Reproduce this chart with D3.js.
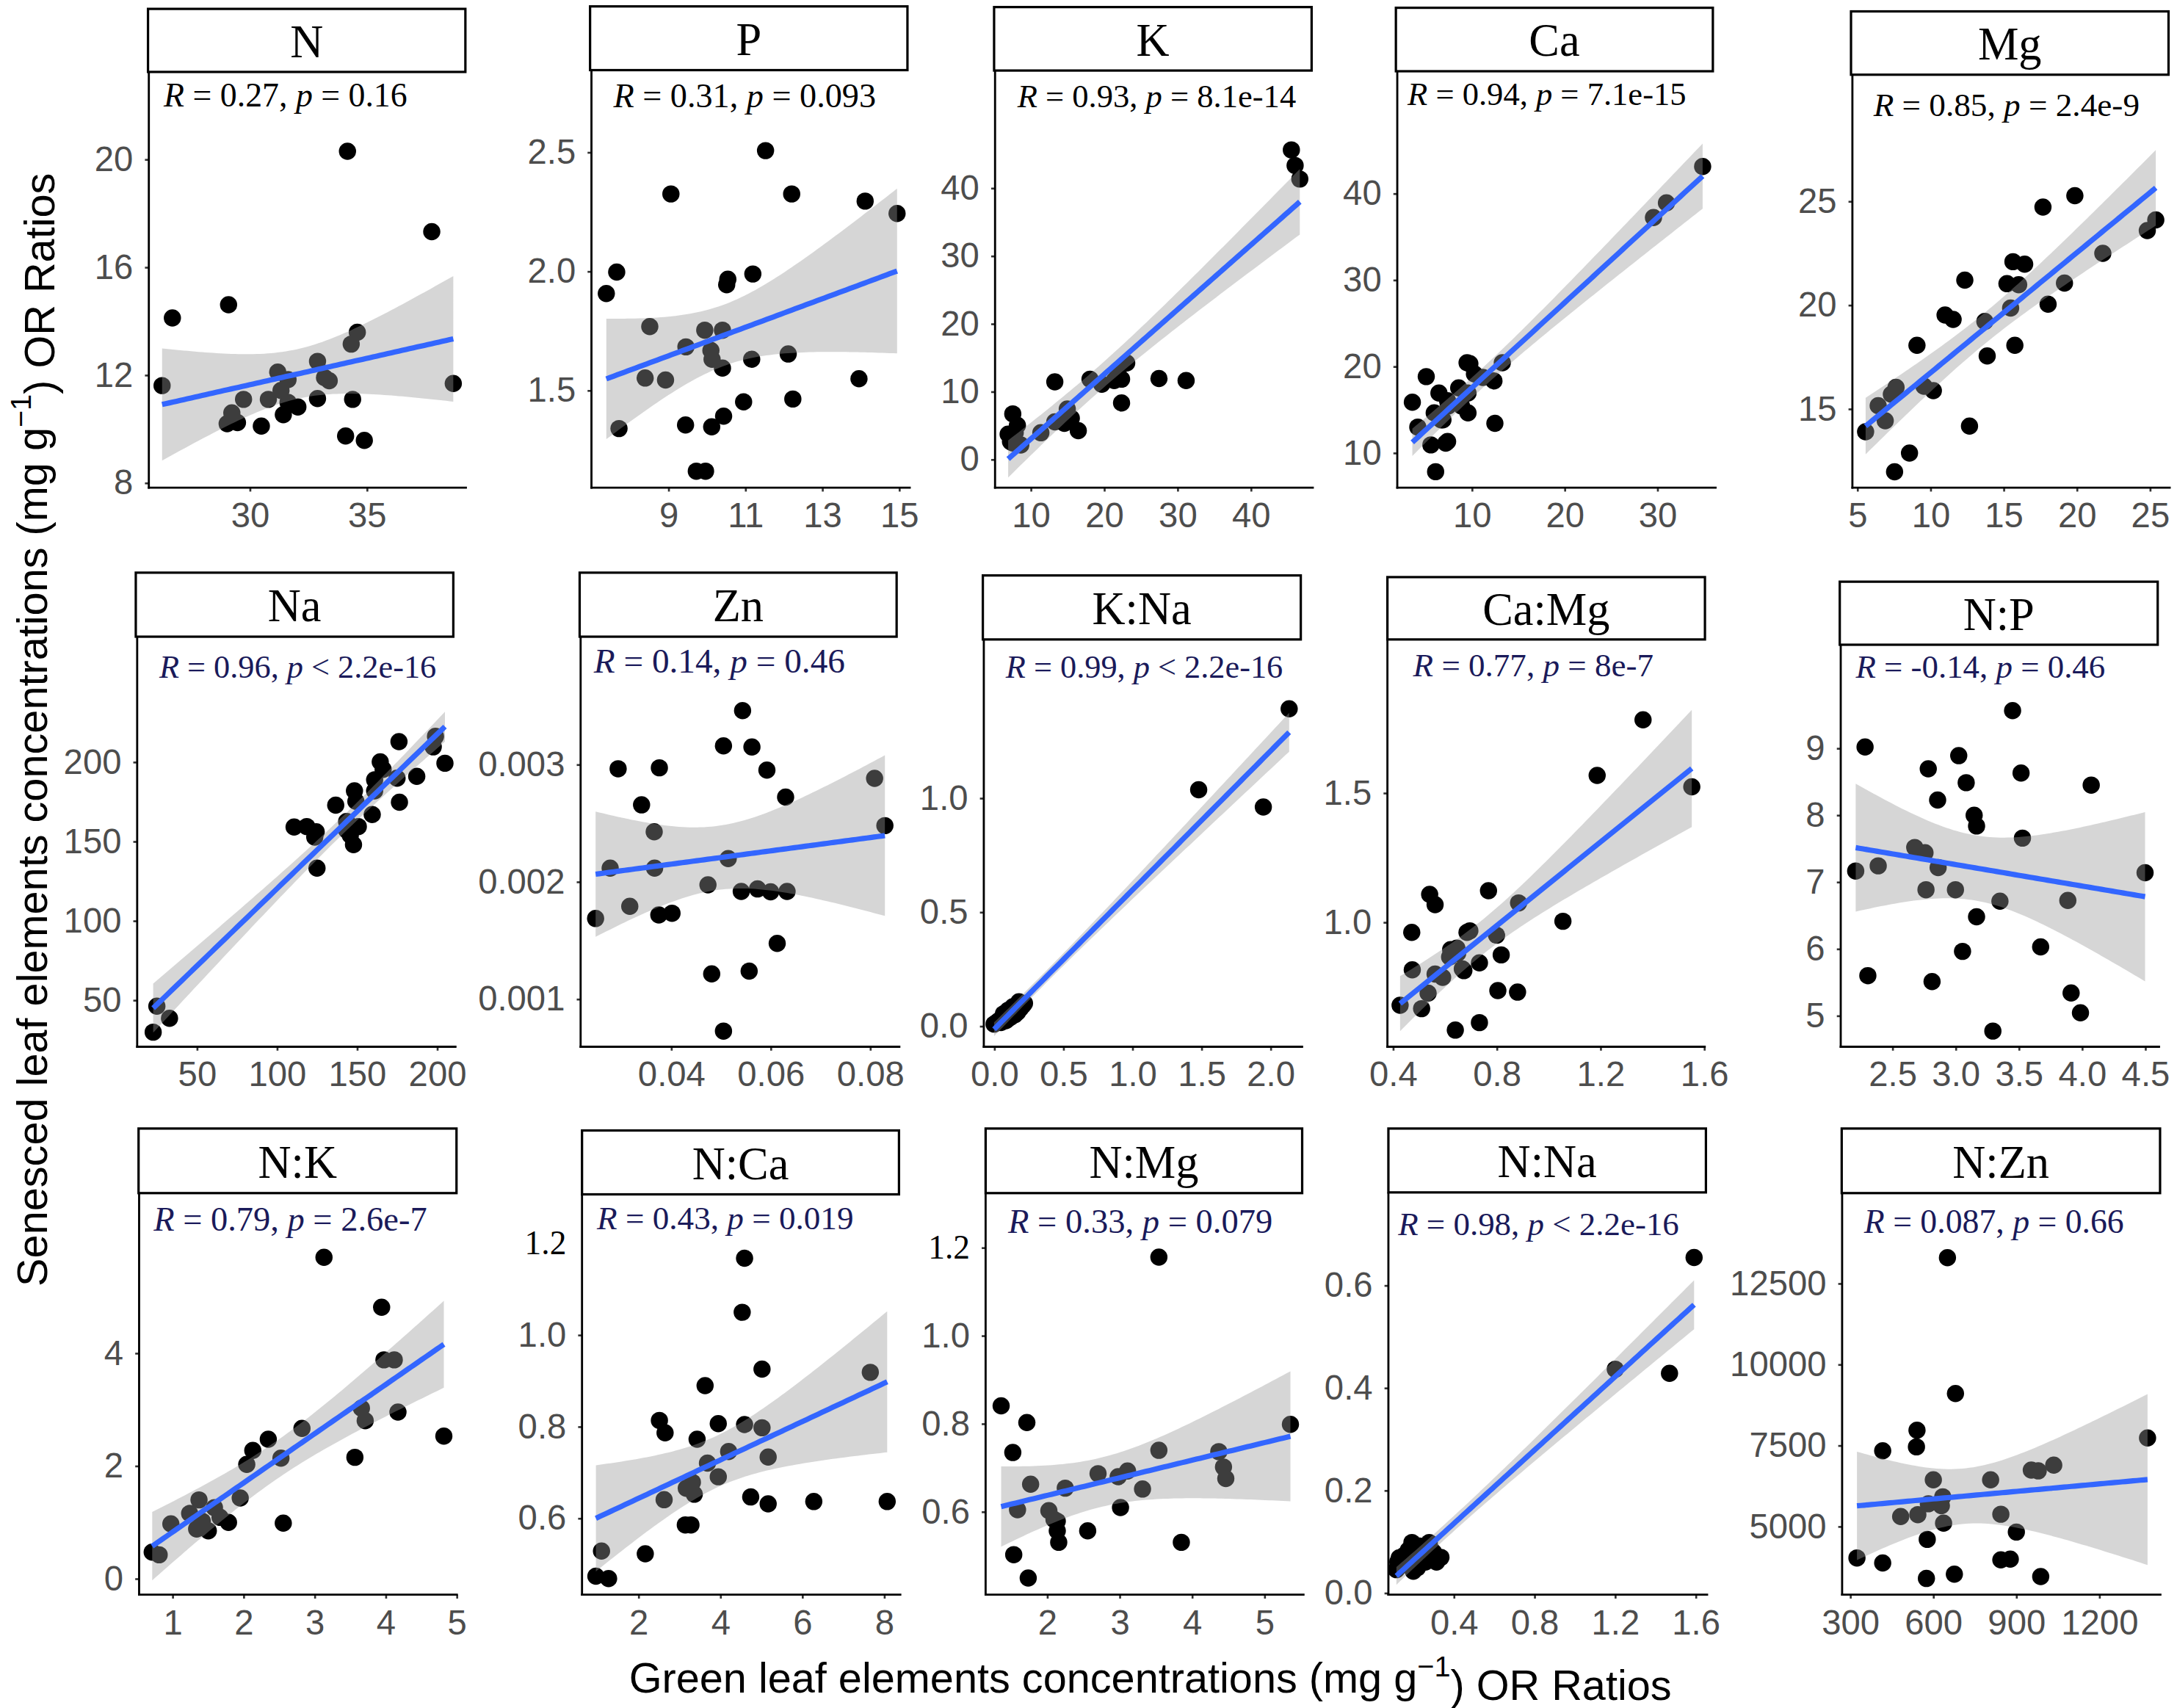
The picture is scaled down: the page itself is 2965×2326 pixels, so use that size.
<!DOCTYPE html>
<html>
<head>
<meta charset="utf-8">
<script src="https://cdn.jsdelivr.net/npm/d3@7"></script>
<style>
  body { margin: 0; background: #fff; }
  svg { display: block; }
</style>
</head>
<body>
<svg></svg>
<script>

// ---- data ----
var panelNames = ["N","P","K","Ca","Mg","Na","Zn","K:Na","Ca:Mg","N:P","N:K","N:Ca","N:Mg","N:Na","N:Zn"];
var rValues = ["0.27","0.31","0.93","0.94","0.85","0.96","0.14","0.99","0.77","-0.14","0.79","0.43","0.33","0.98","0.087"];
var pSigns  = ["=","=","=","=","=","<","=","<","=","=","=","=","=","<","="];
var pValues = ["0.16","0.093","8.1e-14","7.1e-15","2.4e-9","2.2e-16","0.46","2.2e-16","8e-7","0.46","2.6e-7","0.019","0.079","2.2e-16","0.66"];

var xTickValues = [[30,35],[9,11,13,15],[10,20,30,40],[10,20,30],[5,10,15,20,25],
                   [50,100,150,200],[0.04,0.06,0.08],[0,0.5,1,1.5,2],[0.4,0.8,1.2,1.6],[2.5,3,3.5,4,4.5],
                   [1,2,3,4,5],[2,4,6,8],[2,3,4,5],[0.4,0.8,1.2,1.6],[300,600,900,1200]];
var yTickValues = [[8,12,16,20],[1.5,2,2.5],[0,10,20,30,40],[10,20,30,40],[15,20,25],
                   [50,100,150,200],[0.001,0.002,0.003],[0,0.5,1],[1,1.5],[5,6,7,8,9],
                   [0,2,4],[0.6,0.8,1,1.2],[0.6,0.8,1,1.2],[0,0.2,0.4,0.6],[5000,7500,10000,12500]];

// green leaf (x) and senesced leaf (y)
var nGreen = [26.26,26.7,29.1,34.18,37.78,38.7,29.04,29.24,29.48,29.74,30.5,30.8,31.2,31.34,31.44,31.64,31.64,32.06,32.9,32.9,33.2,33.4,34.1,34.34,34.4,34.6,34.9];
var nSen   = [11.6,14.11,14.6,20.29,17.31,11.68,10.19,10.59,10.23,11.09,10.1,11.09,12.1,11.42,10.52,11.82,10.98,10.81,12.5,11.12,11.9,11.78,9.73,13.14,11.09,13.58,9.57];

var pGreen = [7.39,7.66,7.72,8.52,8.4,8.93,9.07,9.46,9.45,9.73,9.97,9.95,10.13,10.11,10.14,10.44,10.41,10.41,10.52,10.55,11.53,12.21,14.12,14.95,11.2,11.17,12.12,13.96,10.96,12.24];
var pSen   = [1.906,1.996,1.339,1.767,1.551,1.543,2.324,1.682,1.354,1.16,1.16,1.752,1.346,1.667,1.63,1.391,1.593,1.752,1.943,1.966,2.506,2.324,2.294,2.242,1.988,1.63,1.652,1.548,1.451,1.463];

var kGreen = [45.55,46.06,46.7,7.57,7.26,7.9,8.2,8.66,6.94,11.4,13.3,13.3,14.6,15.0,15.55,16.5,18.1,19.7,21.4,22.4,23.1,22.4,27.5,31.2,7.57,21.9];
var kSen   = [45.6,43.3,41.3,6.68,2.6,3.9,5.0,2.1,3.7,3.9,11.4,5.5,5.3,7.4,6.05,4.2,11.8,11.05,11.6,11.8,14.2,8.3,11.9,11.6,2.4,12.9];

var caGreen = [3.6,4.19,5.1,5.6,6.11,7.2,6.47,5.96,6.7,7.46,9.5,34.9,31.0,29.6,13.3,9.8,10.3,12.4,12.5,8.6,9.6,8.9,9.6,7.4,6.9,7.4,11.2];
var caSen   = [15.84,12.96,18.8,10.9,7.8,11.1,16.9,14.6,13.8,15.4,20.4,43.1,38.9,37.2,20.4,20.3,19.1,18.3,13.4,17.5,16.9,15.4,14.6,16.0,13.8,11.3,18.7];

var mgGreen = [5.58,6.44,6.92,7.34,7.66,7.56,8.58,9.09,9.57,10.21,11.01,11.56,12.36,12.68,13.73,13.89,15.24,15.49,15.65,16.04,15.78,16.45,17.7,18.05,19.17,19.88,21.79,24.83,25.41];
var mgSen   = [13.89,15.14,14.42,15.69,16.03,11.96,12.86,18.05,16.08,15.87,19.51,19.3,21.19,14.16,19.2,17.54,21.02,19.85,22.08,20.97,18.05,21.96,24.71,20.03,21.05,25.26,22.48,23.58,24.09];

var naGreen = [25.1,22.8,33.0,110.8,118.7,124.6,123.7,125.1,136.8,143.6,145.9,147.9,148.5,149.4,150.9,159.6,161.1,161.1,164.6,166.4,175.1,176.3,176.6,187.4,197.7,199.1,205.0,143.6];
var naSen   = [46.1,29.7,38.4,158.9,159.2,155.9,152.6,133.0,172.7,157.0,153.7,147.8,181.7,175.1,159.2,166.8,181.7,188.6,200,195.2,189.7,212.7,174.5,190.8,209.4,216.0,199.1,162.4];

var znGreen = [0.02484,0.02777,0.02937,0.03171,0.03408,0.03662,0.0367,0.03766,0.03755,0.0402,0.04743,0.04818,0.05055,0.0515,0.05055,0.05439,0.05627,0.05928,0.06304,0.08093,0.083,0.05412,0.0574,0.06003,0.06333,0.06135,0.05571];
var znSen   = [0.001685,0.002114,0.002962,0.001789,0.002654,0.002424,0.002114,0.00297,0.001715,0.00173,0.001972,0.001213,0.003157,0.002196,0.000725,0.003458,0.003148,0.00295,0.00272,0.00288,0.002477,0.001916,0.001937,0.001913,0.001916,0.001473,0.001236];

var knaGreen = [2.136,1.481,1.949,0.017,0.05,0.085,0.12,0.15,0.19,0.21,0.034,0.068,0.10,0.136,0.17,0.19,0.15,0.12,0.05,0.085,0.0,0.22,0.18,0.10];
var knaSen   = [1.391,1.036,0.96,0.015,0.03,0.046,0.06,0.076,0.084,0.091,0.023,0.053,0.068,0.084,0.06,0.076,0.049,0.038,0.015,0.023,0.008,0.099,0.106,0.03];

var camgGreen = [0.428,0.473,0.475,0.542,0.563,0.511,0.536,0.563,0.641,0.623,0.65,0.668,0.686,1.365,1.188,1.553,0.769,0.885,1.056,0.697,0.8,0.818,0.734,0.674,0.647,0.619,0.805,0.881,0.734,0.592];
var camgSen   = [0.678,0.96,0.815,1.107,1.067,0.665,0.725,0.799,0.582,0.893,0.879,0.819,0.96,1.782,1.567,1.523,1.121,1.074,1.003,0.966,0.949,0.873,0.842,0.812,0.899,0.865,0.735,0.729,0.611,0.786];

var npGreen = [2.211,2.285,2.307,2.389,2.678,2.759,2.785,2.859,2.863,2.767,2.815,3.0,3.026,3.085,3.056,3.148,3.167,3.167,3.296,3.352,3.452,3.519,3.53,3.674,3.889,3.915,3.989,4.074,4.5];
var npSen   = [7.161,9.016,5.596,7.238,7.513,7.435,8.689,8.223,7.212,6.881,5.508,6.881,8.886,8.482,5.959,7.995,7.834,6.477,4.767,6.71,9.56,8.627,7.653,6.026,6.72,5.337,5.041,8.446,7.135];

var nkGreen = [0.717,0.815,0.98,1.244,1.376,1.343,1.422,1.507,1.593,1.672,1.791,1.956,2.048,2.133,2.351,2.529,2.562,2.825,3.135,3.57,3.662,3.715,3.946,3.979,4.124,4.176,4.822];
var nkSen   = [0.467,0.419,0.967,1.153,1.393,0.878,1.015,0.844,1.256,1.084,0.995,1.427,2.024,2.271,2.47,2.134,0.981,2.662,5.695,2.148,3.019,2.799,4.81,3.877,3.877,2.95,2.525];

var ncaGreen = [0.966,1.276,1.103,2.172,2.517,2.655,2.632,3.149,3.287,3.172,3.322,3.368,3.437,3.632,3.69,3.954,3.954,4.207,4.596,4.538,5.022,4.596,5.022,5.172,4.746,5.172,6.286,8.078,7.666];
var ncaSen   = [0.473,0.468,0.528,0.522,0.813,0.786,0.64,0.585,0.585,0.665,0.678,0.652,0.772,0.889,0.72,0.69,0.806,0.745,1.167,1.049,0.925,0.804,0.797,0.733,0.646,0.631,0.636,0.636,0.918];

var nmgGreen = [1.367,1.528,1.593,1.541,1.741,1.722,1.774,2.026,2.097,2.142,2.162,2.252,2.562,2.705,2.983,3.112,3.015,3.319,3.545,3.545,3.855,4.372,4.437,4.469,5.361,2.142];
var nmgSen   = [0.84,0.734,0.604,0.502,0.449,0.802,0.662,0.602,0.582,0.556,0.53,0.653,0.556,0.686,0.679,0.692,0.609,0.651,1.178,0.739,0.53,0.736,0.701,0.675,0.798,0.578];

var nnaGreen = [1.593,1.202,1.471,0.123,0.151,0.175,0.193,0.221,0.21,0.25,0.279,0.29,0.315,0.175,0.14,0.23,0.26,0.116,0.2,0.3,0.16,0.22,0.13,0.315,0.337];
var nnaSen   = [0.654,0.436,0.428,0.06,0.072,0.083,0.098,0.049,0.064,0.075,0.098,0.083,0.068,0.057,0.053,0.091,0.06,0.045,0.042,0.079,0.064,0.072,0.068,0.06,0.069];

var nznGreen = [325,418,418,483,542,540,545,579,576,583,601,630,635,638,652,677,681,808,845,845,879,901,955,980,989,1036,1375];
var nznSen   = [4021,7329,3865,5299,7962,7449,5358,4594,3388,5693,6433,5633,5908,5096,13289,3519,9097,6433,5370,3961,3985,4821,6732,6708,3447,6887,7724];

var greenSeries = [nGreen,pGreen,kGreen,caGreen,mgGreen,naGreen,znGreen,knaGreen,camgGreen,npGreen,nkGreen,ncaGreen,nmgGreen,nnaGreen,nznGreen];
var senSeries   = [nSen,pSen,kSen,caSen,mgSen,naSen,znSen,knaSen,camgSen,npSen,nkSen,ncaSen,nmgSen,nnaSen,nznSen];

// ---- panel placement (drawing units, viewBox 1568 x 1230) ----
var layout = [
 {strip:[106.6,335.2,6.4,51.8], left:107.2, bottom:351.2, right:336.3, xa:[30,35], xp:[179.8,264.1], ya:[8,20], yp:[347.6,114.6], xf:"d", yf:"d", ann:[118,293.4,76.9]},
 {strip:[425,653.6,4.6,50.5], left:426, bottom:351.2, right:656, xa:[9,15], xp:[481.3,647.5], ya:[1.5,2.5], yp:[281,109.5], xf:"d", yf:".1f", ann:[441.8,631,77]},
 {strip:[716,944.7,5.1,50.8], left:716.7, bottom:351.2, right:946.3, xa:[10,40], xp:[742.3,900.8], ya:[0,40], yp:[330.7,135.3], xf:"d", yf:"d", ann:[732.8,933.5,77]},
 {strip:[1005.4,1233.7,5.6,51.3], left:1006.4, bottom:351.2, right:1236.4, xa:[10,30], xp:[1060,1193.6], ya:[10,40], yp:[326,139.2], xf:"d", yf:"d", ann:[1013.8,1214.5,75.6]},
 {strip:[1333.2,1561.9,8.2,53.8], left:1334.2, bottom:351.2, right:1563.5, xa:[5,25], xp:[1337.6,1548.4], ya:[15,25], yp:[294.3,144.8], xf:"d", yf:"d", ann:[1349.4,1541,83.3]},
 {strip:[97.8,326.5,412.4,458.5], left:98.8, bottom:753.8, right:328.8, xa:[50,200], xp:[141.7,314.7], ya:[50,200], yp:[720.1,548.6], xf:"d", yf:"d", ann:[114.7,314.3,488]},
 {strip:[417.5,645.8,412.4,458.5], left:418.2, bottom:753.8, right:648.5, xa:[0.04,0.08], xp:[483.3,626.6], ya:[0.001,0.003], yp:[719.3,550.4], xf:".2f", yf:".3f", ann:[427.7,611.4,484.3]},
 {strip:[707.9,936.9,414.4,460.5], left:708.6, bottom:753.8, right:938.6, xa:[0,2], xp:[716,915], ya:[0,1], yp:[738.8,574.6], xf:".1f", yf:".1f", ann:[724.4,924.1,488]},
 {strip:[999.3,1228,415.6,460.5], left:999.3, bottom:753.8, right:1228.6, xa:[0.4,1.6], xp:[1003.2,1227.3], ya:[1,1.5], yp:[664,570.9], xf:".1f", yf:".1f", ann:[1017.8,1190.9,486.8]},
 {strip:[1325.1,1554.1,418.9,464.3], left:1325.8, bottom:753.8, right:1555.8, xa:[2.5,4.5], xp:[1362.9,1545], ya:[5,9], yp:[731.3,538.7], xf:".1f", yf:"d", ann:[1336.6,1516.3,488]},
 {strip:[99.8,328.8,812.7,859.2], left:100.2, bottom:1148.4, right:329.8, xa:[1,5], xp:[124.1,328.8], ya:[0,4], yp:[1136.7,974.3], xf:"d", yf:"d", ann:[110.6,307.6,886.5]},
 {strip:[419.2,647.5,814.1,860.1], left:419.2, bottom:1148.4, right:649.2, xa:[2,8], xp:[459.7,636.7], ya:[0.6,1], yp:[1093.2,961.2], xf:"d", yf:".1f", ann:[430,614.8,885.1]},
 {strip:[709.9,937.9,812.7,859.2], left:709.9, bottom:1148.4, right:939.6, xa:[2,5], xp:[754.1,910.6], ya:[0.6,1], yp:[1088.5,961.7], xf:"d", yf:".1f", ann:[726.1,916.7,887.9]},
 {strip:[1000,1228.7,812.7,858.7], left:1000, bottom:1148.4, right:1230.3, xa:[0.4,1.6], xp:[1047,1221.2], ya:[0,0.6], yp:[1147,925.5], xf:".1f", yf:".1f", ann:[1007,1209.4,889.3]},
 {strip:[1326.5,1555.8,812.7,859.2], left:1326.8, bottom:1148.4, right:1556.8, xa:[300,1200], xp:[1332.5,1511.9], ya:[5000,12500], yp:[1099.1,924.1], xf:"d", yf:"d", ann:[1342.6,1529.8,887.9]}
];

var sansFont = "'Liberation Sans', Arial, sans-serif";
var serifFont = "'Liberation Serif', 'Times New Roman', serif";

var svg = d3.select("svg")
    .attr("width", 2965)
    .attr("height", 2326)
    .attr("viewBox", "0 0 1568 1230")
    .attr("preserveAspectRatio", "none");

svg.append("rect").attr("width", 1568).attr("height", 1230).attr("fill", "white");

// t quantile (0.975) by Cornish-Fisher expansion
function qt975(df) {
    var z = 1.959964;
    var g1 = (Math.pow(z,3) + z) / 4;
    var g2 = (5*Math.pow(z,5) + 16*Math.pow(z,3) + 3*z) / 96;
    var g3 = (3*Math.pow(z,7) + 19*Math.pow(z,5) + 17*Math.pow(z,3) - 15*z) / 384;
    return z + g1/df + g2/(df*df) + g3/(df*df*df);
}

// linear model with 95% confidence band, like geom_smooth(method = "lm")
function lmFit(xs, ys) {
    var n = xs.length;
    var mx = d3.mean(xs), my = d3.mean(ys);
    var sxx = 0, sxy = 0;
    for (var i = 0; i < n; i++) {
        sxx += (xs[i]-mx)*(xs[i]-mx);
        sxy += (xs[i]-mx)*(ys[i]-my);
    }
    var b = sxy / sxx, a = my - b*mx;
    var sse = 0;
    for (var j = 0; j < n; j++) {
        var r = ys[j] - (a + b*xs[j]);
        sse += r*r;
    }
    var s = Math.sqrt(sse / (n-2));
    var t = qt975(n-2);
    var lo = d3.min(xs), hi = d3.max(xs);
    var pts = d3.range(0, 81).map(function(k) {
        var x = lo + (hi-lo)*k/80;
        var fit = a + b*x;
        var se = s*Math.sqrt(1/n + (x-mx)*(x-mx)/sxx);
        return {x: x, y: fit, lo: fit - t*se, hi: fit + t*se};
    });
    return pts;
}

var defs = svg.append("defs");

panelNames.forEach(function(name, i) {
    var L = layout[i];
    var top = L.strip[3];

    var x = d3.scaleLinear().domain(L.xa).range(L.xp);
    var y = d3.scaleLinear().domain(L.ya).range(L.yp);

    var g = svg.append("g").attr("class", "panel");

    defs.append("clipPath").attr("id", "clip" + i)
        .append("rect")
        .attr("x", L.left).attr("y", top)
        .attr("width", L.right - L.left).attr("height", L.bottom - top);

    // points first, the ribbon is drawn over them
    g.append("g").selectAll("circle")
        .data(d3.zip(greenSeries[i], senSeries[i]))
        .enter()
        .append("circle")
        .attr("cx", function(d) { return x(d[0]); })
        .attr("cy", function(d) { return y(d[1]); })
        .attr("r", 6.2)
        .style("fill", "black");

    var fit = lmFit(greenSeries[i], senSeries[i]);
    var band = d3.area()
        .x(function(d) { return x(d.x); })
        .y0(function(d) { return y(d.lo); })
        .y1(function(d) { return y(d.hi); });
    var line = d3.line()
        .x(function(d) { return x(d.x); })
        .y(function(d) { return y(d.y); });

    var sm = g.append("g").attr("clip-path", "url(#clip" + i + ")");
    sm.append("path").datum(fit).attr("d", band)
        .style("fill", "#999999").style("fill-opacity", 0.4).style("stroke", "none");
    sm.append("path").datum(fit).attr("d", line)
        .style("fill", "none").style("stroke", "#3366FF").style("stroke-width", 3.8);

    // axes
    var xAxis = g.append("g")
        .attr("transform", "translate(0," + L.bottom + ")")
        .call(d3.axisBottom(x).tickValues(xTickValues[i]).tickFormat(d3.format(L.xf))
              .tickSize(2.8).tickPadding(8));
    var yAxis = g.append("g")
        .attr("transform", "translate(" + L.left + ",0)")
        .call(d3.axisLeft(y).tickValues(yTickValues[i]).tickFormat(d3.format(L.yf))
              .tickSize(2.8).tickPadding(8.5));

    [xAxis, yAxis].forEach(function(ax) {
        ax.select(".domain").remove();
        ax.selectAll(".tick line").style("stroke", "#333333").style("stroke-width", 1.4);
        ax.selectAll(".tick text")
            .style("font-family", sansFont)
            .style("font-size", "25px")
            .style("fill", "#4d4d4d");
    });

    // the hand-set 1.2 labels on N:Ca and N:Mg
    if (name == "N:Ca" || name == "N:Mg") {
        yAxis.selectAll(".tick")
            .filter(function(d) { return Math.abs(d - 1.2) < 1e-9; })
            .select("text")
            .style("font-family", serifFont)
            .style("font-size", "24px")
            .style("fill", "black");
        if (name == "N:Ca") {
            yAxis.selectAll(".tick").filter(function(d) { return Math.abs(d - 1.2) < 1e-9; })
                .select("line").remove();
        }
    }

    g.append("line")
        .attr("x1", L.left).attr("x2", L.left)
        .attr("y1", top).attr("y2", L.bottom + 0.75)
        .style("stroke", "black").style("stroke-width", 1.5);
    g.append("line")
        .attr("x1", L.left - 0.75).attr("x2", L.right)
        .attr("y1", L.bottom).attr("y2", L.bottom)
        .style("stroke", "black").style("stroke-width", 1.5);

    // strip
    g.append("rect")
        .attr("x", L.strip[0]).attr("y", L.strip[2])
        .attr("width", L.strip[1] - L.strip[0]).attr("height", L.strip[3] - L.strip[2])
        .style("fill", "white").style("stroke", "black").style("stroke-width", 1.7);
    g.append("text")
        .attr("x", (L.strip[0] + L.strip[1]) / 2)
        .attr("y", (L.strip[2] + L.strip[3]) / 2 + 12)
        .attr("text-anchor", "middle")
        .style("font-family", serifFont)
        .style("font-size", "33px")
        .style("fill", "black")
        .text(name);

    // R / p annotation, font shrunk only if it would run past the measured width
    var ann = g.append("text")
        .attr("x", L.ann[0]).attr("y", L.ann[2])
        .style("font-family", serifFont)
        .style("font-size", "25px")
        .style("fill", i < 5 ? "black" : "#1a1a5a");
    ann.append("tspan").style("font-style", "italic").text("R");
    ann.append("tspan").text(" = " + rValues[i] + ", ");
    ann.append("tspan").style("font-style", "italic").text("p");
    ann.append("tspan").text(" " + pSigns[i] + " " + pValues[i]);
    var want = L.ann[1] - L.ann[0];
    var got = ann.node().getComputedTextLength();
    if (got > want) ann.style("font-size", (25 * want / got).toFixed(2) + "px");
});

// shared axis titles
var yTitle = svg.append("text")
    .attr("transform", "translate(33.7,525.5) rotate(-90)")
    .attr("text-anchor", "middle")
    .style("font-family", sansFont)
    .style("font-size", "30.5px")
    .style("fill", "black");
yTitle.append("tspan").text("Senesced leaf elements concentrations (mg g");
yTitle.append("tspan").attr("dy", "-0.55em").style("font-size", "21px").text("\u22121");
yTitle.append("tspan").attr("dy", "0.55em").text(") OR Ratios");

var xTitle = svg.append("text")
    .attr("x", 828.5).attr("y", 1219)
    .attr("text-anchor", "middle")
    .style("font-family", sansFont)
    .style("font-size", "30.5px")
    .style("fill", "black");
xTitle.append("tspan").text("Green leaf elements concentrations (mg g");
xTitle.append("tspan").attr("dy", "-0.55em").style("font-size", "21px").text("\u22121");
xTitle.append("tspan").attr("dy", "0.55em").text(") OR Ratios");

</script>
</body>
</html>
